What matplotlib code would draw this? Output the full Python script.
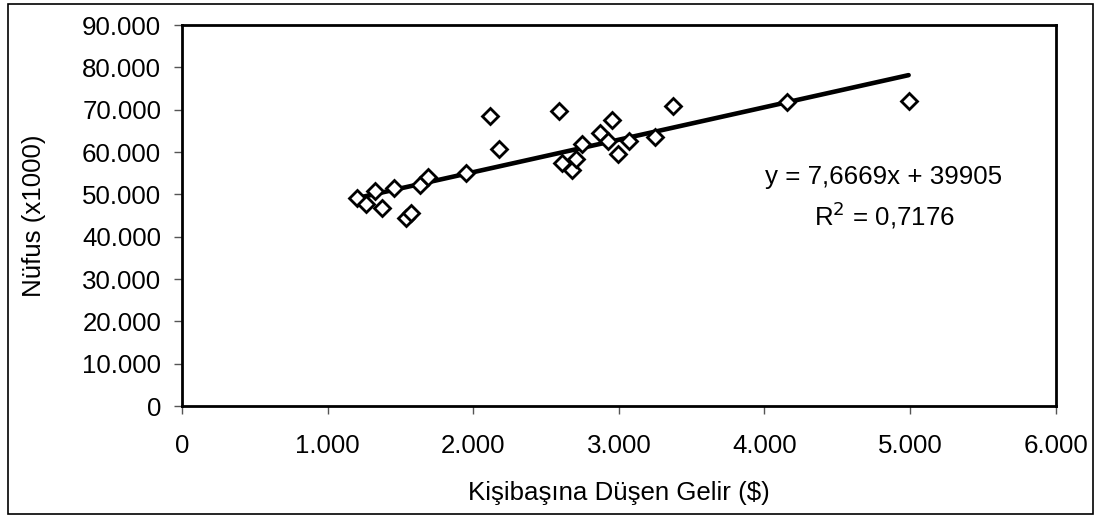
import numpy as np
import matplotlib
matplotlib.use('Agg')
import matplotlib.pyplot as plt
from matplotlib.ticker import FuncFormatter

# okunan değerler (kişi başına gelir $, nüfus x1000)
gelir = [1200, 1265, 1326, 1372, 1458, 1536, 1570, 1634, 1686, 1953,
         2117, 2180, 2591, 2613, 2677, 2705, 2750, 2871, 2928, 2955,
         2996, 3069, 3247, 3372, 4158, 4990]
nufus = [49200, 47800, 50700, 46800, 51400, 44500, 45600, 52300, 54000, 55100,
         68600, 60600, 69700, 57400, 55800, 58400, 61900, 64500, 62500, 67500,
         59600, 62500, 63500, 70800, 71800, 72100]
egim, kesim = 7.6669, 39905
r2 = '0,7176'

x_ticks = list(range(0, 6001, 1000))
y_ticks = list(range(0, 90001, 10000))

plt.rcParams['font.family'] = ['Liberation Sans', 'DejaVu Sans']
FS = 18.6


def tr_fmt(v, pos):
    return '0' if v == 0 else f'{int(v):,}'.replace(',', '.')


fig = plt.figure(figsize=(10.99, 5.18), dpi=100)
ax = fig.add_axes([0.1656, 0.2162, 0.9606 - 0.1656, 0.9517 - 0.2162])

ax.plot(gelir, nufus, linestyle='none', marker='D', ms=8, mfc='white',
        mec='black', mew=2, zorder=3)
xl = np.array([min(gelir), max(gelir)])
ax.plot(xl, egim * xl + kesim, color='black', lw=3.3, solid_capstyle='round', zorder=2)

ax.set_xlim(0, 6000); ax.set_ylim(0, 90000)
ax.set_xticks(x_ticks); ax.set_yticks(y_ticks)
ax.xaxis.set_major_formatter(FuncFormatter(tr_fmt))
ax.yaxis.set_major_formatter(FuncFormatter(tr_fmt))
ax.tick_params(direction='out', length=6, width=1, color='#555555', labelsize=FS)
ax.tick_params(axis='x', pad=14)
ax.tick_params(axis='y', pad=9)
for s in ax.spines.values():
    s.set_linewidth(2); s.set_color('black')

ax.set_xlabel('Kişibaşına Düşen Gelir ($)', fontsize=FS, labelpad=17)
ax.set_ylabel('Nüfus (x1000)', fontsize=FS, labelpad=26)

ax.text(884 / 1099, 1 - 177 / 518, f'y = {str(egim).replace(".", ",")}x + {kesim}',
        transform=fig.transFigure, ha='center', va='center', fontsize=FS)
ax.text(884 / 1099, 1 - 215 / 518, f'R$^2$ = {r2}',
        transform=fig.transFigure, ha='center', va='center', fontsize=FS)

fig.patches.append(plt.Rectangle((8 / 1099, 4 / 518), 1085 / 1099, 510 / 518,
                                 transform=fig.transFigure, fill=False,
                                 edgecolor='black', lw=1.2))
plt.savefig('out.png', dpi=100)
